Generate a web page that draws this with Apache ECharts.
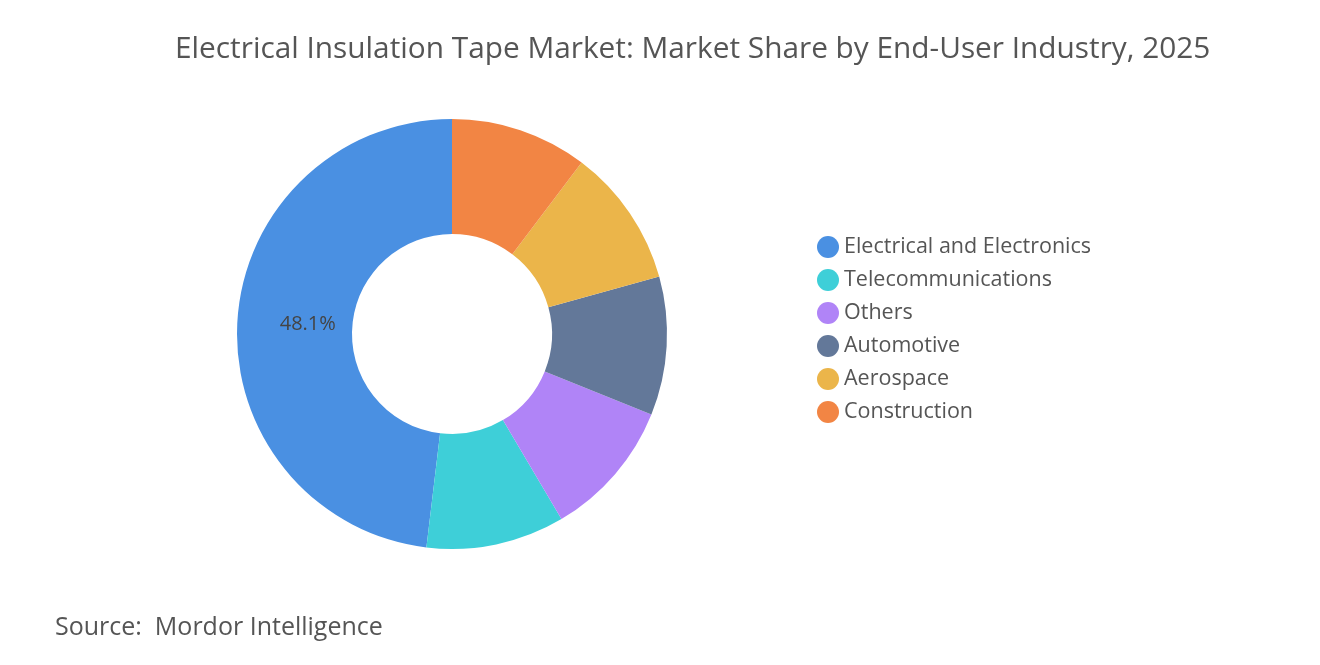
<!DOCTYPE html>
<html><head><meta charset="utf-8">
<script src="https://cdn.jsdelivr.net/npm/echarts@6/dist/echarts.min.js"></script>
<style>html,body{margin:0;padding:0;background:#fff}#c{width:1320px;height:665px}</style>
</head><body><div id="c"></div>
<script>
const categories = ["Electrical and Electronics","Telecommunications","Others","Automotive","Aerospace","Construction"];
const values = [48.1,10.4,10.4,10.4,10.4,10.3];
const colors = ["#4a90e2","#3ecfd8","#b084f7","#637899","#ebb54a","#f28544"];
const chart = echarts.init(document.getElementById('c'));
chart.setOption({
  title:{text:"Electrical Insulation Tape Market: Market Share by End-User Industry, 2025",left:170,top:30,
    textStyle:{fontFamily:'Open Sans',fontSize:29.8,fontWeight:'normal',color:'#555'}},
  legend:{orient:'vertical',left:812,top:231,icon:'circle',itemWidth:22,itemHeight:22,itemGap:11,
    textStyle:{fontFamily:'Open Sans',fontSize:21.5,color:'#555'},data:categories},
  graphic:[{type:'text',left:55,top:615,style:{text:'Source:  Mordor Intelligence',font:'25px "Open Sans"',fill:'#555'}}],
  series:[{type:'pie',center:[452,334],radius:[100,215],startAngle:90,clockwise:false,
    label:{show:false},labelLine:{show:false},emphasis:{disabled:true},
    labelLayout:{dx:16},
    data:categories.map((n,i)=>({name:n,value:values[i],itemStyle:{color:colors[i]},
      label:i===0?{show:true,position:'inside',formatter:'{d}%',fontFamily:'Open Sans',fontSize:20,color:'#444'}:{show:false}}))
  }]
});
</script></body></html>
